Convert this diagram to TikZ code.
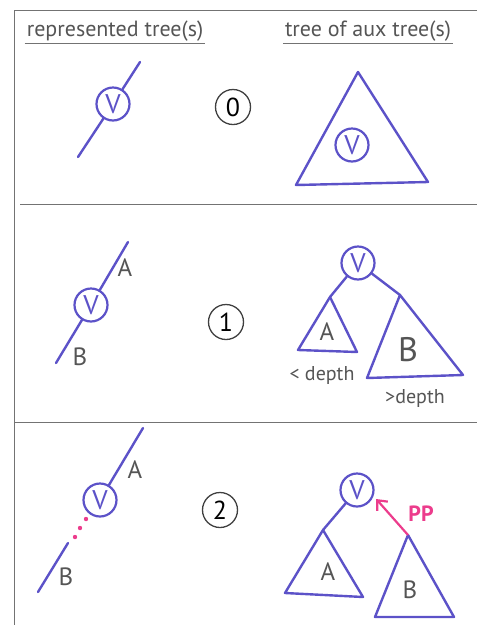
\documentclass[tikz,border=0pt]{standalone}
\usepackage{fontspec}
\setmainfont{PT Sans}
\usetikzlibrary{arrows.meta,positioning}
\definecolor{penblue}{RGB}{92,82,200}
\definecolor{pencil}{RGB}{85,85,85}
\definecolor{marker}{RGB}{236,60,140}

\begin{document}
\begin{tikzpicture}[x=1pt,y=-1pt,
    penline/.style={penblue, line width=2.4pt, line cap=round, line join=round},
    ruleline/.style={black!55, line width=1pt},
    vnode/.style={circle, draw=penblue, line width=2.2pt, minimum size=33pt, inner sep=0pt, text=penblue, font=\fontsize{27}{27}\selectfont},
    numnode/.style={circle, draw=black!75, line width=1.3pt, minimum size=35pt, inner sep=0pt, font=\fontsize{26}{26}\selectfont},
    lbl/.style={text=pencil, font=\fontsize{25}{25}\selectfont},
    headtext/.style={text=pencil, font=\fontsize{22}{22}\selectfont, inner sep=2pt}]
    \useasboundingbox (0,0) rectangle (477,625);
    % frame and separators
    \draw[ruleline] (14,625) -- (14,10) -- (477,10);
    \draw[ruleline] (20,204) -- (477,204);
    \draw[ruleline] (14,422) -- (477,422);
    % headings
    \node[headtext] (hleft) at (115,31) {represented tree(s)};
    \node[headtext] (hright) at (368,31) {tree of aux tree(s)};
    \draw[ruleline] (hleft.south west) -- (hleft.south east);
    \draw[ruleline] (hright.south west) -- (hright.south east);

    % case 0
    \node[vnode] (v0) at (113,104) {V};
    \coordinate (t0) at (140,62);
    \coordinate (b0) at (78,157);
    \draw[penline] (b0) -- (v0);
    \draw[penline] (v0) -- (t0);
    \node[numnode] (n0) at (233,107) {0};
    \coordinate (r0top) at (358,72);
    \coordinate (r0l) at (296,185);
    \coordinate (r0r) at (428,182);
    \draw[penline] (r0top) -- (r0l) -- (r0r) -- cycle;
    \node[vnode] (rv0) at (352,145) {V};

    % case 1
    \node[vnode] (v1) at (91,305) {V};
    \coordinate (t1) at (128,242);
    \coordinate (b1) at (56,363);
    \draw[penline] (b1) -- (v1);
    \draw[penline] (v1) -- (t1);
    \node[lbl] (la1) at (125,268) {A};
    \node[lbl] (lb1) at (80,357) {B};
    \node[numnode] (n1) at (226,322) {1};
    \node[vnode] (rv1) at (358,263) {V};
    \coordinate (a1top) at (330,297);
    \coordinate (a1l) at (298,350);
    \coordinate (a1r) at (357,352);
    \draw[penline] (rv1) -- (a1top);
    \draw[penline] (a1top) -- (a1l) -- (a1r) -- cycle;
    \coordinate (b1top) at (400,295);
    \coordinate (b1l) at (367,378);
    \coordinate (b1r) at (463,375);
    \draw[penline] (rv1) -- (b1top);
    \draw[penline] (b1top) -- (b1l) -- (b1r) -- cycle;
    \node[lbl] (ra1) at (327,332) {A};
    \node[lbl, font=\fontsize{34}{34}\selectfont] (rb1) at (408,350) {B};
    \node[lbl, font=\fontsize{20}{20}\selectfont] (lt1) at (322,375) {< depth};
    \node[lbl, font=\fontsize{20}{20}\selectfont] (gt1) at (415,398) {>depth};

    % case 2
    \node[vnode] (v2) at (100,500) {V};
    \coordinate (t2) at (143,428);
    \coordinate (b2s) at (68,543);
    \coordinate (b2e) at (38,592);
    \draw[penline] (v2) -- (t2);
    \draw[penline] (b2s) -- (b2e);
    \foreach \px/\py in {86/519, 80/528, 75/537}
      \fill[marker] (\px,\py) circle (2.2pt);
    \node[lbl] (la2) at (135,470) {A};
    \node[lbl] (lb2) at (66,577) {B};
    \node[numnode] (n2) at (220,510) {2};
    \node[vnode] (rv2) at (357,490) {V};
    \coordinate (a2top) at (323,530);
    \coordinate (a2l) at (285,593);
    \coordinate (a2r) at (363,597);
    \draw[penline] (rv2) -- (a2top);
    \draw[penline] (a2top) -- (a2l) -- (a2r) -- cycle;
    \coordinate (b2top) at (408,535);
    \coordinate (b2l) at (375,617);
    \coordinate (b2r) at (454,617);
    \draw[penline] (b2top) -- (b2l) -- (b2r) -- cycle;
    \node[lbl] (ra2) at (328,572) {A};
    \node[lbl] (rb2) at (410,590) {B};
    \draw[marker, line width=2.2pt, -{Straight Barb[length=8pt,width=14pt]}, shorten >=4pt] (b2top) -- (rv2.-20);
    \node[text=marker, font=\bfseries\fontsize{22}{22}\selectfont] (pp) at (421,514) {PP};
  \end{tikzpicture}
\end{document}
